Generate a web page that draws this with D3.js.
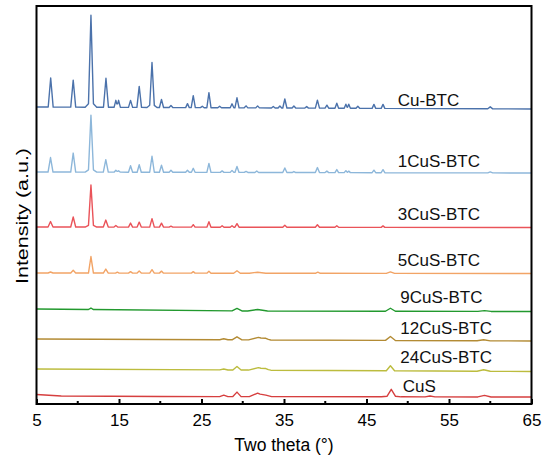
<!DOCTYPE html>
<html>
<head>
<meta charset="utf-8">
<script src="https://cdn.jsdelivr.net/npm/d3@7"></script>
<style>
  html, body { margin: 0; padding: 0; background: #fff; }
  svg { display: block; font-family: "Liberation Sans", Arial, sans-serif; }
</style>
</head>
<body>
<svg id="chart" width="547" height="461"></svg>
<script>
// XRD patterns of Cu-BTC, CuS and the CuS-BTC composites, stacked with offsets.
// Each peak: [2θ (°), height (a.u.), half base width (°)].
// Each baseline: [2θ (°), offset level (a.u.)] knots.

const seriesNames = ["Cu-BTC", "1CuS-BTC", "3CuS-BTC", "5CuS-BTC", "9CuS-BTC", "12CuS-BTC", "24CuS-BTC", "CuS"];

const cuBTCPeaks = [
  [6.72, 29, 0.3], [9.45, 27, 0.3], [11.6, 86, 0.3], [11.6, 6, 0.7], [13.42, 29, 0.3],
  [14.62, 7, 0.22], [14.95, 7, 0.22], [16.4, 7, 0.25], [17.45, 21, 0.28], [19.0, 41, 0.28],
  [19.0, 4, 0.6], [20.15, 8, 0.25], [21.3, 2, 0.22], [23.3, 4, 0.22], [24.0, 12, 0.25],
  [25.1, 1.5, 0.22], [25.9, 15, 0.25], [27.2, 1.5, 0.22], [28.7, 4, 0.22], [29.3, 10, 0.25],
  [30.4, 2, 0.22], [31.8, 2, 0.22], [33.7, 1.5, 0.22], [34.5, 2, 0.22], [35.1, 9, 0.25],
  [36.2, 2, 0.22], [37.75, 1.5, 0.22], [39.05, 8, 0.25], [40.2, 3, 0.22], [41.4, 5, 0.22],
  [42.5, 4, 0.2], [42.85, 4, 0.2], [43.95, 2, 0.22], [45.9, 4, 0.22], [47.0, 4, 0.22],
  [60.0, 2, 0.3]
];
const cuBTCBase = [[5, 297], [65, 295]];

const cus1Peaks = [
  [6.7, 14.5, 0.3], [9.45, 19, 0.3], [11.6, 53, 0.3], [11.6, 4, 0.7], [13.4, 12.5, 0.3],
  [14.62, 2, 0.22], [14.95, 1.5, 0.22], [16.4, 6.5, 0.25], [17.45, 7.5, 0.25], [19.0, 16, 0.28],
  [20.15, 7, 0.25], [21.3, 2, 0.22], [23.3, 2, 0.22], [24.0, 4, 0.22], [25.9, 9, 0.25],
  [27.5, 1.5, 0.22], [28.7, 2, 0.22], [29.3, 6, 0.25], [30.4, 1, 0.22], [31.7, 1.5, 0.22],
  [35.1, 4.5, 0.25], [36.2, 1, 0.22], [39.05, 5, 0.25], [40.2, 1.5, 0.22], [41.4, 3, 0.22],
  [42.5, 2, 0.2], [42.85, 1.5, 0.2], [45.9, 2.5, 0.22], [47.0, 3, 0.22], [60.0, 1, 0.3]
];
const cus1Base = [[5, 232], [65, 231]];

const cus3Peaks = [
  [6.7, 5.5, 0.3], [9.45, 10, 0.3], [11.6, 39, 0.3], [11.6, 3, 0.7], [13.4, 7, 0.3],
  [14.62, 1.5, 0.22], [16.4, 4, 0.25], [17.45, 5, 0.25], [19.0, 8.5, 0.28], [20.15, 4, 0.25],
  [21.3, 1, 0.22], [24.0, 2.5, 0.22], [25.9, 5.5, 0.25], [27.5, 1.5, 0.22], [28.7, 1.5, 0.22],
  [29.3, 3.5, 0.25], [35.1, 2, 0.25], [39.05, 2.5, 0.25], [41.4, 1.5, 0.22], [47.0, 1.5, 0.22]
];
const cus3Base = [[5, 177], [65, 176.5]];

const cus5Peaks = [
  [6.7, 1, 0.3], [9.45, 2.7, 0.3], [11.6, 16.5, 0.3], [13.4, 4, 0.3], [14.8, 1, 0.22],
  [16.4, 1.5, 0.25], [17.45, 2, 0.25], [19.0, 3.5, 0.28], [20.15, 2, 0.25], [24.0, 1.5, 0.22],
  [25.9, 2, 0.25], [29.3, 2.5, 0.4], [31.8, 1, 1.0], [39.1, 1.2, 0.3], [47.9, 1.5, 0.5]
];
const cus5Base = [[5, 131], [65, 130.5]];

const cus9Peaks = [
  [11.6, 1.5, 0.3], [29.3, 2.5, 0.6], [31.8, 1.5, 1.2], [47.9, 3, 0.6], [59.3, 0.8, 0.8]
];
const cus9Base = [[5, 95], [30, 93], [65, 92.5]];

const cus12Peaks = [
  [27.7, 1, 0.5], [29.3, 3, 0.6], [31.9, 2.5, 1.2], [32.8, 1, 0.6], [47.9, 4, 0.6], [59.2, 1, 0.8]
];
const cus12Base = [[5, 65], [65, 63]];

const cus24Peaks = [
  [27.7, 1, 0.5], [29.3, 3.5, 0.5], [31.9, 2.5, 1.2], [32.8, 1, 0.6], [47.9, 5, 0.5], [59.2, 1.5, 0.8]
];
const cus24Base = [[5, 35], [65, 32.5]];

const cusPeaks = [
  [27.7, 1.5, 0.5], [29.3, 4.5, 0.5], [31.8, 3.5, 1.0], [32.8, 1.5, 0.7], [48.0, 6.5, 0.5],
  [48.0, 1, 1.2], [52.7, 0.8, 0.6], [59.3, 1.5, 0.8]
];
const cusBase = [[5, 9.5], [8, 8], [20, 7.5], [65, 7]];

const xTicksMajor = [5, 15, 25, 35, 45, 55, 65];
const xTicksMinor = [10, 20, 30, 40, 50, 60];

// Label anchor for each pattern: [2θ, level] in data units.
const labelAnchors = [[48.8, 298], [48.8, 237.5], [48.8, 184], [48.8, 138], [49.1, 101], [49.1, 70], [49.1, 41], [49.4, 12.5]];

const seriesColors = ["#4b72ab", "#8db7da", "#ea5359", "#f2a466", "#22992e", "#b38b34", "#bcbc3e", "#d63f3f"];

const allPeaks = [cuBTCPeaks, cus1Peaks, cus3Peaks, cus5Peaks, cus9Peaks, cus12Peaks, cus24Peaks, cusPeaks];
const allBases = [cuBTCBase, cus1Base, cus3Base, cus5Base, cus9Base, cus12Base, cus24Base, cusBase];

const svg = d3.select("#chart");
const frame = { left: 36.5, right: 531.5, top: 6, bottom: 404 };

const x = d3.scaleLinear().domain([5, 65]).range([frame.left, frame.right]);
const y = d3.scaleLinear().domain([0, 398]).range([frame.bottom, frame.top]);

// Piecewise-linear pattern: baseline plus triangular peaks, evaluated at every vertex.
function pattern(peaks, base) {
  const baseline = d3.scaleLinear()
    .domain(base.map(d => d[0]))
    .range(base.map(d => d[1]))
    .clamp(true);
  const xs = new Set([5, 65, ...base.map(d => d[0])]);
  peaks.forEach(([p, , w]) => { xs.add(p - w); xs.add(p); xs.add(p + w); });
  return [...xs]
    .filter(v => v >= 5 && v <= 65)
    .sort((a, b) => a - b)
    .map(v => [v, baseline(v) + d3.sum(peaks, ([p, h, w]) => Math.max(0, h * (1 - Math.abs(v - p) / w)))]);
}

const line = d3.line().x(d => x(d[0])).y(d => y(d[1]));

const plot = svg.append("g");
seriesNames.forEach((name, i) => {
  plot.append("path")
    .datum(pattern(allPeaks[i], allBases[i]))
    .attr("fill", "none")
    .attr("stroke", seriesColors[i])
    .attr("stroke-width", 1.4)
    .attr("stroke-linejoin", "round")
    .attr("d", line);
});

// Pattern labels
svg.append("g").selectAll("text")
  .data(seriesNames)
  .join("text")
  .attr("x", (d, i) => x(labelAnchors[i][0]))
  .attr("y", (d, i) => y(labelAnchors[i][1]))
  .attr("font-size", 17)
  .attr("fill", "#111")
  .text(d => d);

// Bottom axis with inward ticks
const xAxis = d3.axisBottom(x)
  .tickValues(xTicksMajor)
  .tickSizeInner(-5)
  .tickSizeOuter(0)
  .tickPadding(10)
  .tickFormat(d3.format("d"));
const gx = svg.append("g")
  .attr("transform", `translate(0,${frame.bottom})`)
  .call(xAxis);
gx.select(".domain").remove();
gx.selectAll(".tick line").attr("stroke", "#000").attr("stroke-width", 2);
gx.selectAll(".tick text")
  .attr("font-size", 17)
  .attr("font-family", "Liberation Sans, Arial, sans-serif")
  .attr("fill", "#000");

svg.append("g").selectAll("line")
  .data(xTicksMinor)
  .join("line")
  .attr("x1", d => x(d)).attr("x2", d => x(d))
  .attr("y1", frame.bottom).attr("y2", frame.bottom - 3)
  .attr("stroke", "#000").attr("stroke-width", 2);

// Plot frame
svg.append("rect")
  .attr("x", frame.left).attr("y", frame.top)
  .attr("width", frame.right - frame.left)
  .attr("height", frame.bottom - frame.top)
  .attr("fill", "none")
  .attr("stroke", "#000")
  .attr("stroke-width", 2);

// Axis titles
svg.append("text")
  .attr("x", (frame.left + frame.right) / 2)
  .attr("y", 451)
  .attr("text-anchor", "middle")
  .attr("font-size", 17.5)
  .attr("fill", "#000")
  .text("Two theta (°)");

svg.append("text")
  .attr("transform", "translate(28,216) rotate(-90)")
  .attr("text-anchor", "middle")
  .attr("font-size", 17)
  .attr("textLength", 136)
  .attr("lengthAdjust", "spacingAndGlyphs")
  .attr("fill", "#000")
  .text("Intensity (a.u.)");
</script>
</body>
</html>
